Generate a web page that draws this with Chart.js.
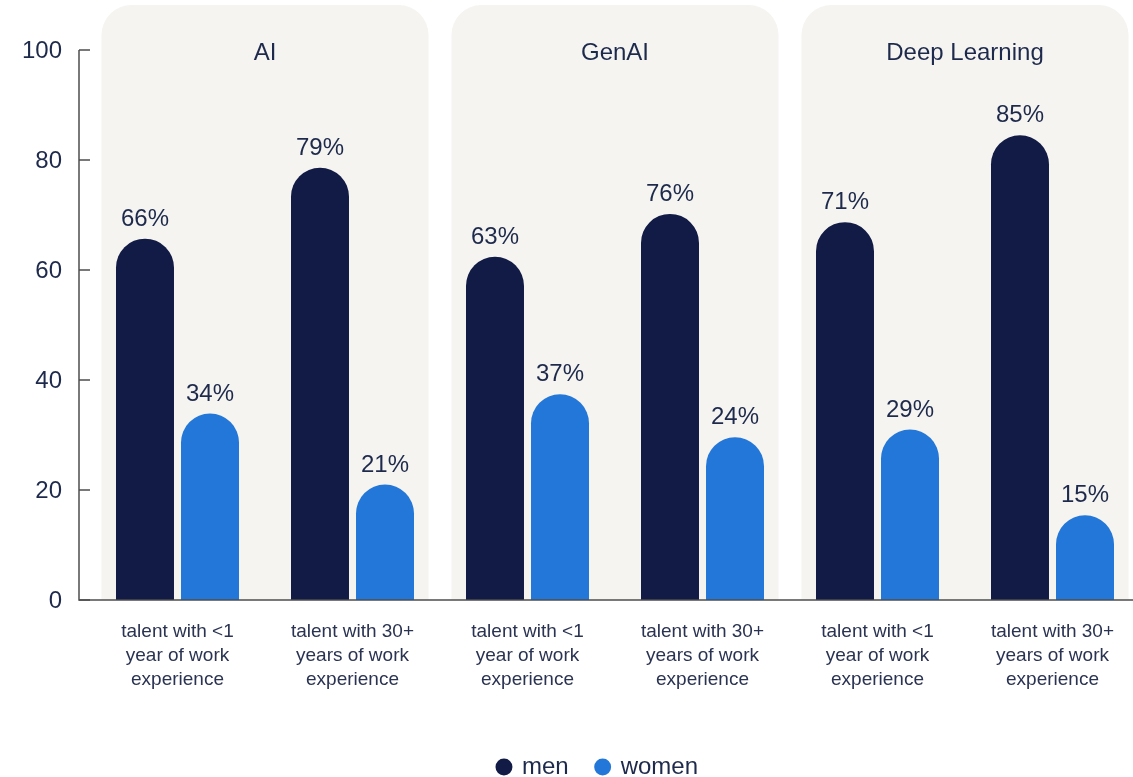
<!DOCTYPE html>
<html>
<head>
<meta charset="utf-8">
<script src="https://cdn.jsdelivr.net/npm/chart.js@4.4.1/dist/chart.umd.min.js"></script>
<style>
  html, body { margin: 0; padding: 0; background: #ffffff; overflow: hidden; }
  #wrap { width: 1150px; height: 789px; }
</style>
</head>
<body>
<div id="wrap"><canvas id="c" width="1150" height="789" style="width:1150px;height:789px"></canvas></div>
<script>
// ---- data ----
const categories = [
  ['talent with <1', 'year of work', 'experience'],
  ['talent with 30+', 'years of work', 'experience'],
  ['talent with <1', 'year of work', 'experience'],
  ['talent with 30+', 'years of work', 'experience'],
  ['talent with <1', 'year of work', 'experience'],
  ['talent with 30+', 'years of work', 'experience']
];
const groupTitles = ['AI', 'GenAI', 'Deep Learning'];
const seriesNames = ['men', 'women'];
// bar heights as drawn in the picture
const menValues = [65.7, 78.6, 62.4, 70.2, 68.7, 84.5];
const womenValues = [33.9, 21.0, 37.4, 29.6, 31.0, 15.4];
// printed value labels
const menLabels = ['66%', '79%', '63%', '76%', '71%', '85%'];
const womenLabels = ['34%', '21%', '37%', '24%', '29%', '15%'];
const yTicks = [0, 20, 40, 60, 80, 100];

const NAVY = '#111b45';
const BLUE = '#2277d9';
const TEXT = '#1e2a4c';
const AXIS = '#4d4d4d';
const PANEL = '#f5f4f0';
const FONT = "'Liberation Sans', Arial, sans-serif";

const panelsPlugin = {
  id: 'panels',
  beforeDatasetsDraw(chart) {
    const ctx = chart.ctx;
    const x = chart.scales.x;
    const y = chart.scales.y;
    const area = chart.chartArea;
    const catW = (area.right - area.left) / categories.length;
    const top = area.top - 45;
    const bottom = y.getPixelForValue(0);
    const r = 30;
    ctx.save();
    for (let g = 0; g < groupTitles.length; g++) {
      const cx = (x.getPixelForValue(2 * g) + x.getPixelForValue(2 * g + 1)) / 2;
      const half = catW - 11.5;
      const l = cx - half, rr = cx + half;
      ctx.beginPath();
      ctx.moveTo(l, bottom);
      ctx.lineTo(l, top + r);
      ctx.arcTo(l, top, l + r, top, r);
      ctx.lineTo(rr - r, top);
      ctx.arcTo(rr, top, rr, top + r, r);
      ctx.lineTo(rr, bottom);
      ctx.closePath();
      ctx.fillStyle = PANEL;
      ctx.fill();
      ctx.fillStyle = TEXT;
      ctx.font = '24px ' + FONT;
      ctx.textAlign = 'center';
      ctx.textBaseline = 'middle';
      ctx.fillText(groupTitles[g], cx, area.top + 3);
    }
    ctx.restore();
  },
  afterDatasetsDraw(chart) {
    const ctx = chart.ctx;
    const y = chart.scales.y;
    const area = chart.chartArea;
    ctx.save();
    // value labels
    const labelSets = [menLabels, womenLabels];
    ctx.fillStyle = TEXT;
    ctx.font = '24px ' + FONT;
    ctx.textAlign = 'center';
    ctx.textBaseline = 'middle';
    chart.data.datasets.forEach((ds, di) => {
      const meta = chart.getDatasetMeta(di);
      meta.data.forEach((bar, i) => {
        ctx.fillText(labelSets[di][i], bar.x, bar.y - 19.5);
      });
    });
    // axes
    const ax = area.left - 11;
    const y0 = y.getPixelForValue(0);
    ctx.strokeStyle = AXIS;
    ctx.lineWidth = 1.5;
    ctx.beginPath();
    ctx.moveTo(ax, y.getPixelForValue(100));
    ctx.lineTo(ax, y0);
    ctx.lineTo(chart.width, y0);
    ctx.stroke();
    ctx.textAlign = 'right';
    ctx.fillStyle = TEXT;
    yTicks.forEach(v => {
      const py = y.getPixelForValue(v);
      ctx.beginPath();
      ctx.moveTo(ax, py);
      ctx.lineTo(area.left, py);
      ctx.stroke();
      ctx.fillText(String(v), area.left - 28, py + 1);
    });
    ctx.restore();
  }
};

new Chart(document.getElementById('c'), {
  type: 'bar',
  data: {
    labels: categories,
    datasets: [
      { label: seriesNames[0], data: menValues, backgroundColor: NAVY, borderWidth: 0,
        borderRadius: 29, borderSkipped: 'bottom', barPercentage: 0.892, categoryPercentage: 0.743 },
      { label: seriesNames[1], data: womenValues, backgroundColor: BLUE, borderWidth: 0,
        borderRadius: 29, borderSkipped: 'bottom', barPercentage: 0.892, categoryPercentage: 0.743 }
    ]
  },
  options: {
    responsive: false,
    animation: false,
    devicePixelRatio: 1,
    layout: { padding: { top: 50, left: 56, right: 10, bottom: 0 } },
    plugins: {
      legend: {
        display: true,
        position: 'bottom',
        labels: {
          usePointStyle: true,
          pointStyle: 'circle',
          boxWidth: 12,
          boxHeight: 12,
          padding: 28,
          color: TEXT,
          font: { family: FONT, size: 24 }
        }
      },
      tooltip: { enabled: false }
    },
    scales: {
      x: {
        grid: { display: false, drawTicks: false },
        border: { display: false },
        ticks: {
          color: '#2a3352',
          font: { family: FONT, size: 19, lineHeight: 1.26 },
          padding: 20,
          maxRotation: 0,
          autoSkip: false
        },
        afterFit(scale) { scale.height = 127; }
      },
      y: {
        min: 0,
        max: 100,
        grid: { display: false, drawTicks: false },
        border: { display: false },
        ticks: {
          stepSize: 20,
          display: false
        },
        afterFit(scale) { scale.width = 34; }
      }
    }
  },
  plugins: [panelsPlugin]
});
</script>
</body>
</html>
